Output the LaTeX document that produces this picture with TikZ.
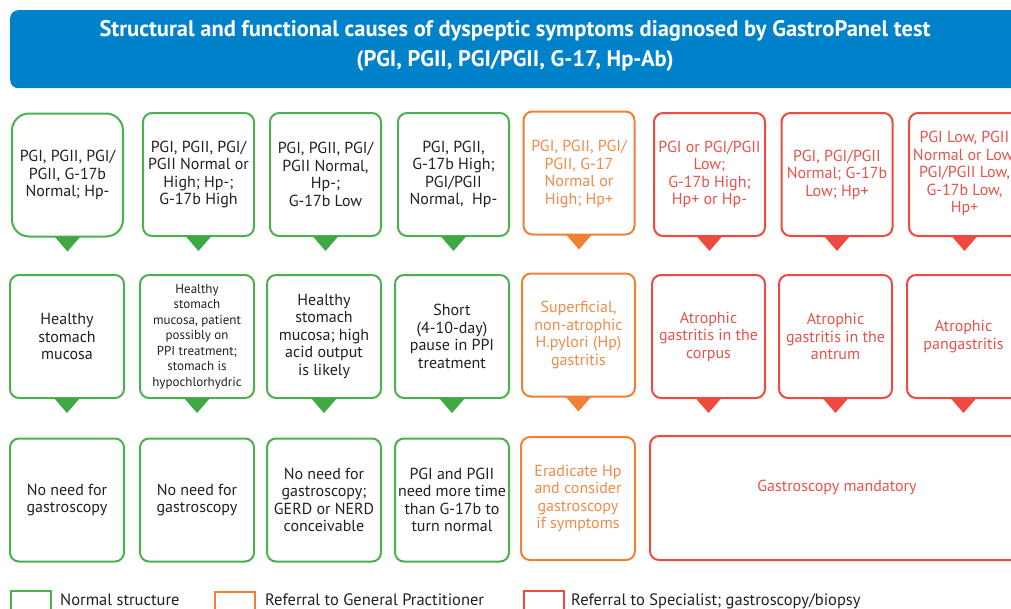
\documentclass[tikz,border=0pt]{standalone}
\usepackage{fontspec}
\setmainfont{PT Sans}
\definecolor{grn}{HTML}{4DB04F}
\definecolor{grnf}{HTML}{3FA845}
\definecolor{org}{HTML}{F08032}
\definecolor{orgt}{HTML}{F08A48}
\definecolor{rd}{HTML}{EE4A3F}
\definecolor{rdt}{HTML}{E8524A}
\definecolor{blu}{HTML}{0082CA}
\definecolor{txt}{HTML}{231F20}
\newcommand{\fsA}{\fontsize{16}{17.5}\selectfont}
\newcommand{\fsB}{\fontsize{13}{15.5}\selectfont}
\tikzset{
  cbox/.style={line width=2pt, rounded corners=9pt, minimum width=111pt, minimum height=123pt, inner sep=0pt, align=center, font=\fsA},
  gbox/.style={cbox, draw=grn, text=txt},
  obox/.style={cbox, draw=org, text=orgt},
  rbox/.style={cbox, draw=rd, text=rdt},
  legsq/.style={line width=2pt, minimum width=40pt, minimum height=30pt, inner sep=0pt, anchor=north west},
  legtxt/.style={anchor=base west, text=txt, font=\fontsize{16.5}{17}\selectfont, inner sep=0pt}
}
\newcommand{\tri}[2]{\fill[#1] ([xshift=-13pt,yshift=1pt]#2.south) -- ([xshift=13pt,yshift=1pt]#2.south) -- ([yshift=-14pt]#2.south) -- cycle;}
\begin{document}
\begin{tikzpicture}[x=1pt,y=-1pt]
\useasboundingbox (0,0) rectangle (1011,608);
\clip (0,0) rectangle (1011,608);
% title
\node[fill=blu, rounded corners=8pt, minimum width=1030pt, minimum height=78pt, anchor=north west, inner sep=0pt] (title) at (10,10) {};
\node[text=white, font=\fontsize{22.5}{30}\selectfont\bfseries, align=center] (ttext) at (515,46) {Structural and functional causes of dyspeptic symptoms diagnosed by GastroPanel test\\(PGI, PGII, PGI/PGII, G-17, Hp-Ab)};
% row 1
\node[gbox, rounded corners=17pt] (a1) at (67.5,175) {PGI, PGII, PGI/\\PGII, G-17b\\Normal; Hp-};
\node[gbox] (a2) at (198.5,174.5) {PGI, PGII, PGI/\\PGII Normal or\\High; Hp-;\\G-17b High};
\node[gbox] (a3) at (325.5,174.5) {PGI, PGII, PGI/\\PGII Normal,\\Hp-;\\G-17b Low};
\node[gbox] (a4) at (453.5,174.5) {PGI, PGII,\\G-17b High;\\PGI/PGII\\Normal,\ \ Hp-};
\node[obox] (a5) at (579,173) {\\[-4pt]PGI, PGII, PGI/\\PGII, G-17\\Normal or\\High; Hp+};
\node[rbox] (a6) at (709.5,174.5) {PGI or PGI/PGII\\Low;\\G-17b High;\\Hp+ or Hp-};
\node[rbox] (a7) at (837,174.5) {PGI, PGI/PGII\\Normal; G-17b\\Low; Hp+};
\node[rbox] (a8) at (964.5,174.5) {\\[-8pt]PGI Low, PGII\\Normal or Low,\\PGI/PGII Low,\\G-17b Low,\\Hp+};
% row 2
\node[gbox, minimum width=114pt] (b1) at (67,336.5) {Healthy\\stomach\\mucosa};
\node[gbox, minimum width=114pt, font=\fsB] (b2) at (197,336.5) {Healthy\\stomach\\mucosa, patient\\possibly on\\PPI treatment;\\stomach is\\hypochlorhydric};
\node[gbox, minimum width=114pt] (b3) at (324,336.5) {Healthy\\stomach\\mucosa; high\\acid output\\is likely};
\node[gbox, minimum width=114pt] (b4) at (452,336.5) {Short\\(4-10-day)\\pause in PPI\\treatment};
\node[obox, minimum width=113pt] (b5) at (578.5,335) {Superficial,\\non-atrophic\\H.pylori (Hp)\\gastritis};
\node[rbox, minimum width=113pt] (b6) at (708.5,336.5) {Atrophic\\gastritis in the\\corpus};
\node[rbox, minimum width=113pt] (b7) at (835.5,336.5) {Atrophic\\gastritis in the\\antrum};
\node[rbox, minimum width=113pt] (b8) at (963.5,336.5) {Atrophic\\pangastritis};
% row 3
\node[gbox, minimum width=114pt] (c1) at (67,500) {No need for\\gastroscopy};
\node[gbox, minimum width=114pt] (c2) at (197,500) {No need for\\gastroscopy};
\node[gbox, minimum width=114pt] (c3) at (324,500) {No need for\\gastroscopy;\\GERD or NERD\\conceivable};
\node[gbox, minimum width=114pt] (c4) at (452,500) {PGI and PGII\\need more time\\than G-17b to\\turn normal};
\node[obox, minimum width=114pt] (c5) at (578,498.5) {Eradicate Hp\\and consider\\gastroscopy\\if symptoms};
\node[rbox, minimum width=374pt, minimum height=124pt] (c6) at (837,498) {Gastroscopy mandatory\\[6pt]};
% pointers
\tri{grnf}{a1}\tri{grnf}{a2}\tri{grnf}{a3}\tri{grnf}{a4}
\tri{org}{a5}\tri{rd}{a6}\tri{rd}{a7}\tri{rd}{a8}
\tri{grnf}{b1}\tri{grnf}{b2}\tri{grnf}{b3}\tri{grnf}{b4}
\tri{org}{b5}\tri{rd}{b6}\tri{rd}{b7}\tri{rd}{b8}
% legend
\node[legsq, draw=grn] (l1) at (10,590) {};
\node[legtxt] (t1) at (60,605) {Normal structure};
\node[legsq, draw=org] (l2) at (214,591) {};
\node[legtxt] (t2) at (265,605) {Referral to General Practitioner};
\node[legsq, draw=rd] (l3) at (523,590) {};
\node[legtxt] (t3) at (571,605) {Referral to Specialist; gastroscopy/biopsy};
\end{tikzpicture}
\end{document}
